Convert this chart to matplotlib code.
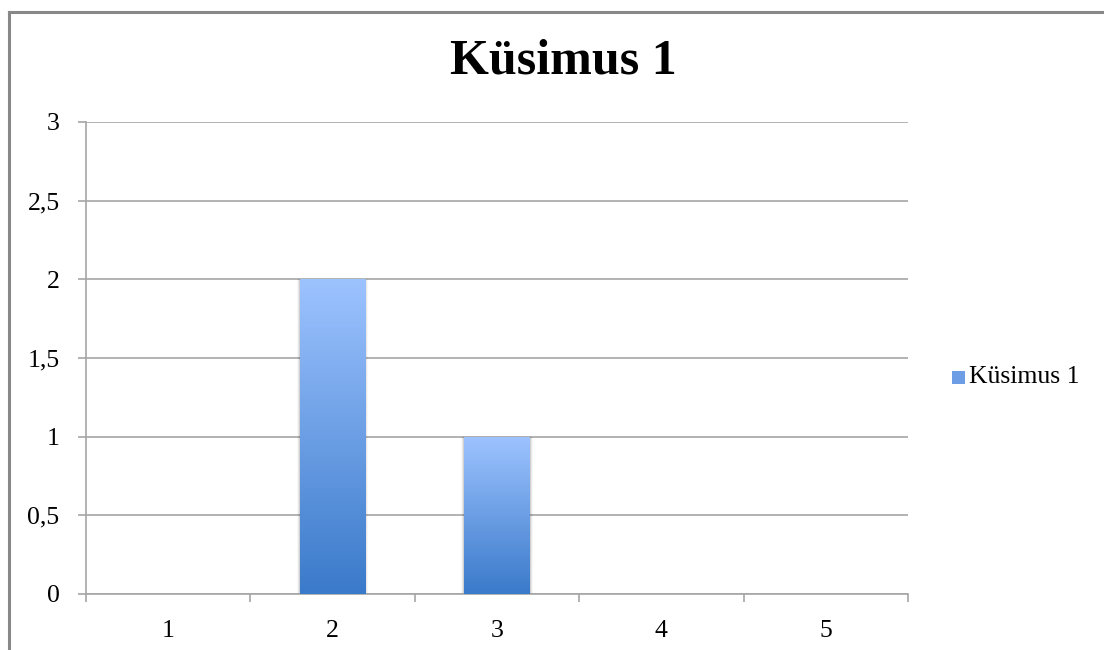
import numpy as np
import matplotlib
matplotlib.use("Agg")
import matplotlib.pyplot as plt
from matplotlib.colors import LinearSegmentedColormap
from matplotlib.lines import Line2D
from matplotlib.patches import Rectangle

categories = ["1", "2", "3", "4", "5"]
values = [0, 2, 1, 0, 0]
series_name = "Küsimus 1"
title = "Küsimus 1"
y_ticks = [0, 0.5, 1, 1.5, 2, 2.5, 3]
y_tick_labels = ["0", "0,5", "1", "1,5", "2", "2,5", "3"]

plt.rcParams["font.family"] = ["Liberation Serif", "DejaVu Serif"]

grid_color = "#a6a6a6"
top_color = "#9dc3ff"
bottom_color = "#3a7aca"
cmap = LinearSegmentedColormap.from_list("bar_grad", [bottom_color, top_color])

fig = plt.figure(figsize=(11.04, 6.5), dpi=100)
ax = fig.add_axes([86 / 1104, 56 / 650, 822 / 1104, 472 / 650])

# chart frame (left and top edges)
fig.add_artist(Line2D([9 / 1104, 9 / 1104], [0, 1 - 12 / 650], transform=fig.transFigure,
                      color="#888888", lw=2.2))
fig.add_artist(Line2D([9 / 1104, 1], [1 - 12 / 650, 1 - 12 / 650], transform=fig.transFigure,
                      color="#888888", lw=2.2))

x = np.arange(len(categories))
bar_w = 0.4
ax.set_xlim(-0.5, len(categories) - 0.5)
ax.set_ylim(0, 3)

ax.set_yticks(y_ticks)
ax.set_yticklabels(y_tick_labels)
ax.yaxis.grid(True, color=grid_color, lw=1.2)
ax.set_axisbelow(True)

bars = ax.bar(x, values, width=bar_w, facecolor="none", edgecolor="none", zorder=3)
grad = np.linspace(0, 1, 256).reshape(-1, 1)
for b, v in zip(bars, values):
    if v <= 0:
        continue
    x0 = b.get_x()
    # soft shadow
    for k, a in enumerate([0.10, 0.06, 0.03]):
        d = 0.006 * (k + 1)
        ax.add_patch(Rectangle((x0 - d, 0), bar_w + 2 * d, v + d * 0.08,
                               facecolor="#000000", alpha=a, edgecolor="none", zorder=2))
    im = ax.imshow(grad, cmap=cmap, aspect="auto", origin="lower",
                   extent=[x0, x0 + bar_w, 0, v], zorder=3)
    im.set_clip_path(b)
ax.set_xlim(-0.5, len(categories) - 0.5)
ax.set_ylim(0, 3)

# category ticks sit on the boundaries between categories
ax.set_xticks(np.arange(-0.5, len(categories), 1.0))
ax.set_xticklabels([])
ax.set_xticks(x, minor=True)
ax.set_xticklabels(categories, minor=True)
ax.tick_params(axis="x", which="major", length=6, color=grid_color, width=1.2)
ax.tick_params(axis="x", which="minor", length=0, pad=19, labelsize=18.5)
ax.tick_params(axis="y", length=6, color=grid_color, width=1.2, pad=13, labelsize=18.5)

for s in ["top", "right"]:
    ax.spines[s].set_visible(False)
for s in ["left", "bottom"]:
    ax.spines[s].set_color(grid_color)
    ax.spines[s].set_linewidth(1.2)

fig.text(563 / 1104, 1 - 62 / 650, title, ha="center", va="center",
         fontsize=36, fontweight="bold")

# legend
fig.add_artist(Rectangle((952 / 1104, 1 - 384 / 650), 13 / 1104, 13 / 650,
                         transform=fig.transFigure, facecolor="#6d9de4", edgecolor="none"))
fig.text(969 / 1104, 1 - 377 / 650, series_name, ha="left", va="center", fontsize=18.5)

fig.savefig("out.png", dpi=100)
